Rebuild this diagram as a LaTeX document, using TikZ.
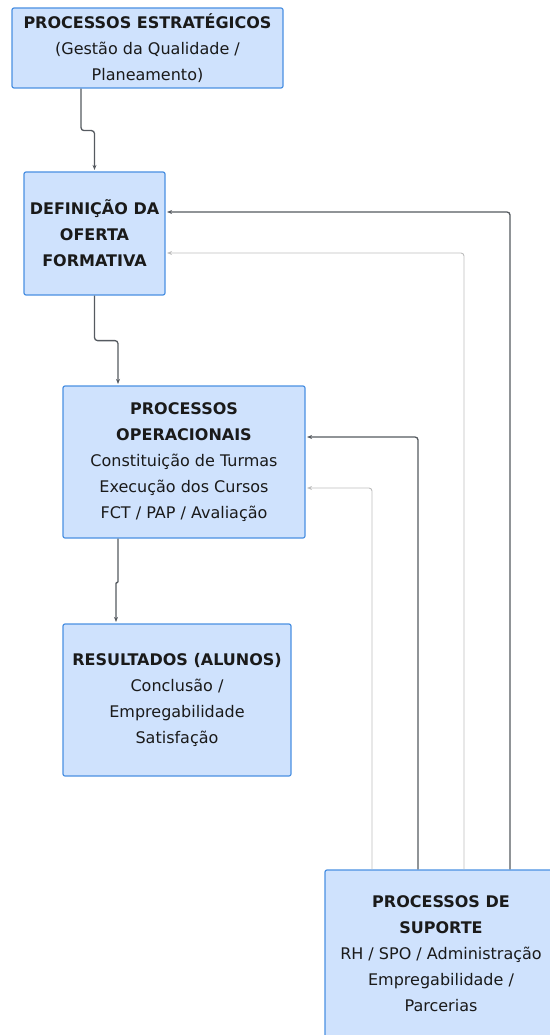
\documentclass[tikz,border=0pt]{standalone}
\usepackage{fontspec}
\setmainfont{DejaVu Sans}
\usetikzlibrary{arrows.meta}
\definecolor{boxfill}{HTML}{CFE2FD}
\definecolor{boxline}{HTML}{4A90E2}
\definecolor{dkline}{HTML}{555A60}
\definecolor{ltline}{HTML}{BDBDBD}
\definecolor{txt}{HTML}{1A1A1A}
\tikzset{
  box/.style={draw=boxline, fill=boxfill, line width=1.2pt, rounded corners=2pt,
    align=center, text=txt, inner sep=0pt, font=\fontsize{16}{26}\selectfont},
  dk/.style={draw=dkline, line width=1.3pt, rounded corners=3pt, -{Stealth[length=5pt,width=4pt]}, shorten >=1.5pt},
  lt/.style={draw=ltline, line width=0.9pt, rounded corners=3pt, -{Stealth[length=5pt,width=4pt]}, shorten >=1.5pt},
}
\begin{document}
\begin{tikzpicture}[x=1pt,y=1pt]
\useasboundingbox (0,0) rectangle (549,-1035);
\node[box, minimum width=271pt, minimum height=80pt] (b1) at (147.5,-48)
  {\textbf{PROCESSOS ESTRATÉGICOS}\\(Gestão da Qualidade /\\Planeamento)};
\node[box, minimum width=141pt, minimum height=123pt] (b2) at (94.5,-233.5)
  {\textbf{DEFINIÇÃO DA}\\\textbf{OFERTA}\\\textbf{FORMATIVA}};
\node[box, minimum width=242pt, minimum height=152pt] (b3) at (184,-462)
  {\textbf{PROCESSOS}\\\textbf{OPERACIONAIS}\\Constituição de Turmas\\Execução dos Cursos\\FCT / PAP / Avaliação};
\node[box, minimum width=228pt, minimum height=152pt] (b4) at (177,-700)
  {\textbf{RESULTADOS (ALUNOS)}\\Conclusão /\\Empregabilidade\\Satisfação};
\node[box, minimum width=232pt, minimum height=168pt] (b5) at (441,-954)
  {\textbf{PROCESSOS DE}\\\textbf{SUPORTE}\\RH / SPO / Administração\\Empregabilidade /\\Parcerias};
\draw[dk] ([xshift=-66.5pt]b1.south) -- ++(0,-42) -| (b2.north);
\draw[dk] (b2.south) -- ++(0,-45) -| ([xshift=-66pt]b3.north);
\draw[dk, rounded corners=0.8pt] ([xshift=-66pt]b3.south) -- ++(0,-44) -| ([xshift=-61pt]b4.north);
\draw[dk] ([xshift=69pt]b5.north) |- ([yshift=21.5pt]b2.east);
\draw[lt] ([xshift=23pt]b5.north) |- ([yshift=-19.5pt]b2.east);
\draw[dk] ([xshift=-23pt]b5.north) |- ([yshift=25pt]b3.east);
\draw[lt] ([xshift=-69pt]b5.north) |- ([yshift=-26pt]b3.east);
\end{tikzpicture}
\end{document}
